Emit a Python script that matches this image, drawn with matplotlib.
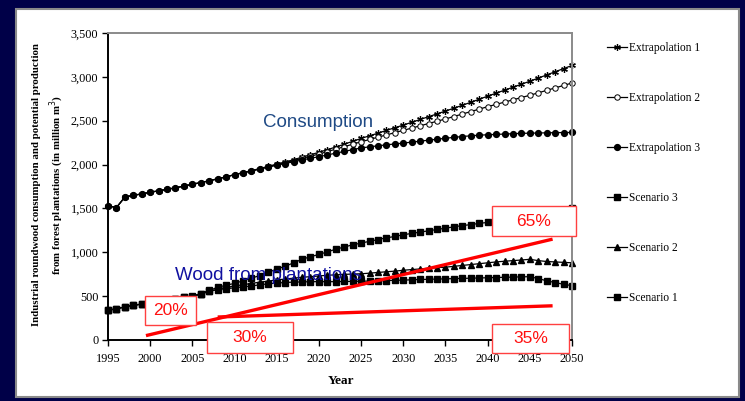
import matplotlib
matplotlib.use("Agg")
import matplotlib.pyplot as plt
from matplotlib.patches import Rectangle
from matplotlib.ticker import StrMethodFormatter
import numpy as np

years = list(range(1995, 2051))

extrapolation_1 = [1530, 1510, 1630, 1650, 1665, 1685, 1700, 1718, 1735, 1755,
                   1775, 1795, 1815, 1838, 1860, 1885, 1908, 1930, 1955, 1980,
                   2005, 2030, 2055, 2085, 2112, 2140, 2170, 2200, 2232, 2265,
                   2298, 2328, 2358, 2390, 2420, 2450, 2482, 2514, 2546, 2578,
                   2610, 2643, 2676, 2710, 2745, 2780, 2814, 2848, 2882, 2916,
                   2950, 2986, 3022, 3058, 3094, 3130]
extrapolation_2 = [1530, 1510, 1630, 1650, 1665, 1685, 1700, 1718, 1735, 1755,
                   1775, 1795, 1815, 1838, 1860, 1885, 1908, 1930, 1953, 1976,
                   2000, 2022, 2045, 2070, 2095, 2120, 2148, 2176, 2204, 2232,
                   2260, 2286, 2312, 2338, 2364, 2390, 2416, 2442, 2468, 2494,
                   2520, 2548, 2576, 2604, 2632, 2660, 2686, 2712, 2738, 2764,
                   2790, 2818, 2846, 2874, 2902, 2930]
extrapolation_3 = [1530, 1510, 1630, 1650, 1665, 1685, 1700, 1718, 1735, 1755,
                   1775, 1795, 1815, 1838, 1860, 1885, 1905, 1925, 1948, 1970,
                   1992, 2012, 2032, 2052, 2072, 2090, 2110, 2130, 2150, 2170,
                   2190, 2202, 2214, 2225, 2235, 2245, 2256, 2267, 2278, 2289,
                   2300, 2310, 2320, 2328, 2335, 2340, 2344, 2348, 2352, 2356,
                   2358, 2360, 2362, 2364, 2365, 2366]
scenario_3 = [340, 355, 378, 395, 410, 425, 440, 455, 470, 485,
              500, 530, 565, 600, 625, 645, 675, 705, 735, 770,
              810, 840, 880, 920, 950, 975, 1005, 1035, 1060, 1085,
              1105, 1125, 1145, 1165, 1180, 1200, 1215, 1230, 1245, 1260,
              1275, 1290, 1305, 1315, 1330, 1340, 1355, 1370, 1385, 1400,
              1415, 1430, 1445, 1460, 1480, 1500]
scenario_2 = [340, 355, 378, 395, 410, 425, 440, 455, 470, 485,
              495, 525, 555, 578, 600, 615, 630, 645, 660, 672,
              685, 695, 705, 715, 722, 730, 738, 743, 748, 752,
              755, 762, 770, 778, 785, 795, 803, 810, 818, 825,
              830, 840, 850, 860, 870, 880, 890, 898, 905, 912,
              920, 905, 895, 890, 885, 880]
scenario_1 = [340, 355, 378, 395, 410, 425, 440, 455, 470, 485,
              495, 525, 555, 575, 585, 595, 605, 615, 630, 640,
              650, 655, 660, 662, 665, 665, 665, 665, 667, 668,
              670, 672, 675, 678, 680, 683, 686, 690, 692, 695,
              697, 700, 702, 705, 707, 710, 712, 715, 717, 720,
              722, 700, 675, 655, 635, 620]

# red share lines (year, value) and the percentage labels
share_line_a = ([1999.5, 2047.7], [50, 1150])
share_line_b = ([2008.0, 2047.7], [262, 390])
pct_labels = ["20%", "30%", "65%", "35%"]

W, H = 745, 401
fig = plt.figure(figsize=(W / 100, H / 100), dpi=100)
fig.patch.set_facecolor("#000048")

def px(x0, y0, x1, y1):
    return (x0 / W, 1 - y1 / H, (x1 - x0) / W, (y1 - y0) / H)

l, b, w, h = px(16, 9, 739, 397)
fig.patches.append(Rectangle((l, b), w, h, transform=fig.transFigure,
                             facecolor="white", edgecolor="#8a8a8a", lw=1.5, zorder=-1))

ax = fig.add_axes(px(108, 33, 572, 340))
ax.set_facecolor("none")

serif = "Liberation Serif"
ax.plot(years, extrapolation_1, color="black", lw=0.9, marker=(6, 2, 0), ms=4.8, mew=0.9,
        label="Extrapolation 1", clip_on=False)
ax.plot(years, extrapolation_2, color="black", lw=0.9, marker="o", ms=3.9, mfc="white", mew=0.7,
        label="Extrapolation 2", clip_on=False)
ax.plot(years, extrapolation_3, color="black", lw=0.9, marker="o", ms=4.2,
        label="Extrapolation 3", clip_on=False)
ax.plot(years, scenario_3, color="black", lw=0.9, marker="s", ms=3.9,
        label="Scenario 3", clip_on=False)
ax.plot(years, scenario_2, color="black", lw=0.9, marker="^", ms=4,
        label="Scenario 2", clip_on=False)
ax.plot(years, scenario_1, color="black", lw=0.9, marker="s", ms=3.9,
        label="Scenario 1", clip_on=False)

ax.set_xlim(1995, 2050)
ax.set_ylim(0, 3500)
ax.set_xticks(range(1995, 2051, 5))
ax.set_yticks(range(0, 3501, 500))
ax.yaxis.set_major_formatter(StrMethodFormatter("{x:,.0f}"))
ax.tick_params(labelsize=8.8, length=4, width=1, direction="out", pad=3)
for t in ax.get_xticklabels() + ax.get_yticklabels():
    t.set_fontfamily(serif)
ax.tick_params(axis="x", pad=5)
ax.spines["left"].set_linewidth(1.4)
ax.spines["bottom"].set_linewidth(1.4)
ax.spines["top"].set_color("#8a8a8a")
ax.spines["right"].set_color("#8a8a8a")
ax.spines["top"].set_linewidth(1.4)
ax.spines["right"].set_linewidth(1.4)

ax.text(2019.9, 2480, "Consumption", color="#1f4a85", fontsize=13.5,
        family="Liberation Sans", ha="center", va="center")

ax.plot(*share_line_a, color="#ff0000", lw=2.4, solid_capstyle="butt", zorder=5)
ax.plot(*share_line_b, color="#ff0000", lw=2.4, solid_capstyle="butt", zorder=5)

ax.text(2014.0, 730, "Wood from plantations", color="#1010a0", fontsize=13.5,
        family="Liberation Sans", ha="center", va="center", zorder=6)

boxes = [(145, 296, 196, 325), (207, 322, 293, 353), (492, 206, 576, 236), (492, 324, 569, 353)]
for (x0, y0, x1, y1), lab in zip(boxes, pct_labels):
    bl, bb, bw, bh = px(x0, y0, x1, y1)
    ax.add_patch(Rectangle((bl, bb), bw, bh, transform=fig.transFigure, clip_on=False,
                           facecolor="white", edgecolor="#ff4040", lw=1, zorder=10))
    ax.text(bl + bw / 2, bb + bh / 2, lab, color="#ff1010", fontsize=12.5,
            transform=fig.transFigure, family="Liberation Sans", ha="center",
            va="center", zorder=11)

fig.text(37 / W, 1 - 185 / H, "Industrial roundwood consumption and potential production",
         rotation=90, ha="center", va="center", fontsize=7.8, fontweight="bold", family=serif)
fig.text(57 / W, 1 - 185 / H, "from forest plantations (in million m$^{3}$)",
         rotation=90, ha="center", va="center", fontsize=7.8, fontweight="bold", family=serif)
fig.text(341 / W, 1 - 381 / H, "Year", ha="center", va="center", fontsize=9.5,
         fontweight="bold", family=serif)

leg = ax.legend(loc="upper left", bbox_to_anchor=(607 / W, 1 - 42 / H),
                bbox_transform=fig.transFigure, frameon=False,
                prop={"family": serif, "size": 8.3}, handlelength=1.7, handletextpad=0.25,
                labelspacing=3.3, borderpad=0, borderaxespad=0)

fig.savefig("out.png", dpi=100, facecolor=fig.get_facecolor())
